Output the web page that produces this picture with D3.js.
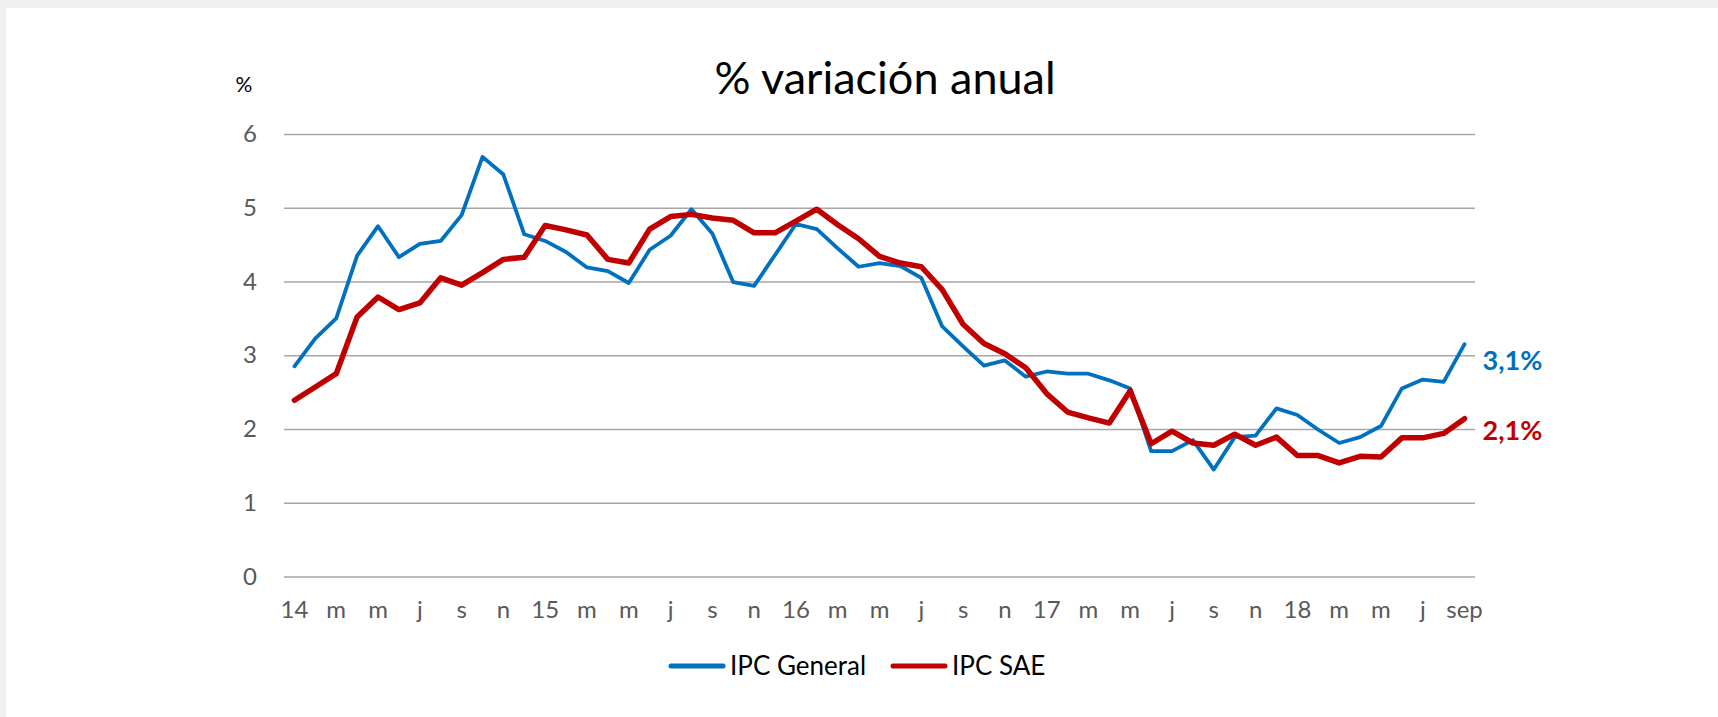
<!DOCTYPE html>
<html>
<head>
<meta charset="utf-8">
<script src="https://cdn.jsdelivr.net/npm/d3@7"></script>
<style>
  body { margin: 0; background: #f0f0f0; }
  svg { display: block; }
  text { font-family: Lato, "Open Sans", sans-serif; }
</style>
</head>
<body>
<svg id="chart" width="1718" height="717"></svg>
<script>
// monthly data, ene 2014 .. sep 2018
let tickLabels = ["14", "m", "m", "j", "s", "n", "15", "m", "m", "j", "s", "n",
    "16", "m", "m", "j", "s", "n", "17", "m", "m", "j", "s", "n",
    "18", "m", "m", "j", "sep"];

let ipcGeneral = [2.85, 3.23, 3.50, 4.35, 4.75, 4.33, 4.51, 4.55, 4.90, 5.69, 5.45, 4.64,
    4.55, 4.40, 4.19, 4.14, 3.98, 4.43, 4.62, 4.98, 4.65, 3.99, 3.94, 4.36,
    4.78, 4.71, 4.45, 4.20, 4.25, 4.21, 4.05, 3.39, 3.12, 2.86, 2.93, 2.71,
    2.78, 2.75, 2.75, 2.66, 2.55, 1.70, 1.70, 1.85, 1.45, 1.89, 1.91, 2.28,
    2.19, 1.99, 1.81, 1.89, 2.04, 2.55, 2.67, 2.64, 3.15];

let ipcSAE = [2.39, 2.57, 2.75, 3.52, 3.79, 3.62, 3.71, 4.05, 3.95, 4.12, 4.30, 4.33,
    4.76, 4.70, 4.63, 4.30, 4.25, 4.71, 4.88, 4.91, 4.86, 4.83, 4.66, 4.66,
    4.82, 4.98, 4.77, 4.58, 4.34, 4.25, 4.20, 3.89, 3.42, 3.16, 3.02, 2.83,
    2.48, 2.23, 2.15, 2.08, 2.52, 1.80, 1.97, 1.81, 1.78, 1.93, 1.78, 1.89,
    1.64, 1.64, 1.54, 1.63, 1.62, 1.88, 1.88, 1.94, 2.14];

let seriesNames = ["IPC General", "IPC SAE"];
let endLabels = ["3,1%", "2,1%"];
let yTicks = [0, 1, 2, 3, 4, 5, 6];

let colours = ["#0070c0", "#c00000"];
let widths = [3.8, 5.5];

let svg = d3.select("#chart");

// white panel
svg.append("rect")
    .attr("x", 6).attr("y", 8)
    .attr("width", 1718 - 6).attr("height", 717 - 8)
    .attr("fill", "#ffffff");

let plot = { left: 284, right: 1475, top: 134, bottom: 576.5 };

let x = d3.scaleBand()
    .domain(d3.range(ipcGeneral.length))
    .range([plot.left, plot.right]);

let y = d3.scaleLinear()
    .domain([0, 6])
    .range([plot.bottom, plot.top]);

let cx = function(i) { return x(i) + x.bandwidth() / 2; };

// y axis + gridlines
let yAxis = svg.append("g")
    .attr("transform", "translate(" + plot.left + ",0)")
    .call(d3.axisLeft(y)
        .tickValues(yTicks)
        .tickSize(-(plot.right - plot.left))
        .tickPadding(27)
        .tickFormat(d3.format("d")));

yAxis.select(".domain").remove();
yAxis.selectAll(".tick line")
    .attr("stroke", "#a6a6a6")
    .attr("stroke-width", 1.6);
yAxis.selectAll(".tick text")
    .attr("fill", "#595959")
    .style("font-size", "24px")
    .style("font-family", "Lato, 'Open Sans', sans-serif");

// x axis, a label every second month
let xAxis = svg.append("g")
    .attr("transform", "translate(0," + plot.bottom + ")")
    .call(d3.axisBottom(x)
        .tickValues(d3.range(0, ipcGeneral.length, 2))
        .tickSize(0)
        .tickPadding(24)
        .tickFormat(function(d) { return tickLabels[d / 2]; }));

xAxis.select(".domain").remove();
xAxis.selectAll(".tick text")
    .attr("fill", "#595959")
    .style("font-size", "24px")
    .style("font-family", "Lato, 'Open Sans', sans-serif");

// lines
let line = d3.line()
    .x(function(d, i) { return cx(i); })
    .y(function(d) { return y(d); });

[ipcGeneral, ipcSAE].forEach(function(series, k) {
    svg.append("path")
        .datum(series)
        .attr("fill", "none")
        .attr("stroke", colours[k])
        .attr("stroke-width", widths[k])
        .attr("stroke-linejoin", "round")
        .attr("stroke-linecap", "round")
        .attr("d", line);

    let last = series.length - 1;
    svg.append("text")
        .attr("x", cx(last) + 18)
        .attr("y", y(series[last]) + (k == 0 ? 16 : 12))
        .attr("dy", "0.35em")
        .attr("fill", colours[k])
        .style("font-size", "27px")
        .style("font-weight", "bold")
        .text(endLabels[k]);
});

// title and unit
svg.append("text")
    .attr("x", 885).attr("y", 78)
    .attr("dy", "0.35em")
    .attr("text-anchor", "middle")
    .attr("fill", "#000")
    .style("font-size", "45px")
    .text("% variación anual");

svg.append("text")
    .attr("x", 244).attr("y", 85)
    .attr("dy", "0.35em")
    .attr("text-anchor", "middle")
    .attr("fill", "#000")
    .style("font-size", "21px")
    .text("%");

// legend
let legendX = [671, 893];
seriesNames.forEach(function(name, k) {
    let g = svg.append("g").attr("transform", "translate(" + legendX[k] + ",666)");
    g.append("line")
        .attr("x1", 0).attr("x2", 52)
        .attr("stroke", colours[k])
        .attr("stroke-width", 5)
        .attr("stroke-linecap", "round");
    g.append("text")
        .attr("x", 59)
        .attr("dy", "0.35em")
        .attr("fill", "#000")
        .style("font-size", "26px")
        .text(name);
});
</script>
</body>
</html>
